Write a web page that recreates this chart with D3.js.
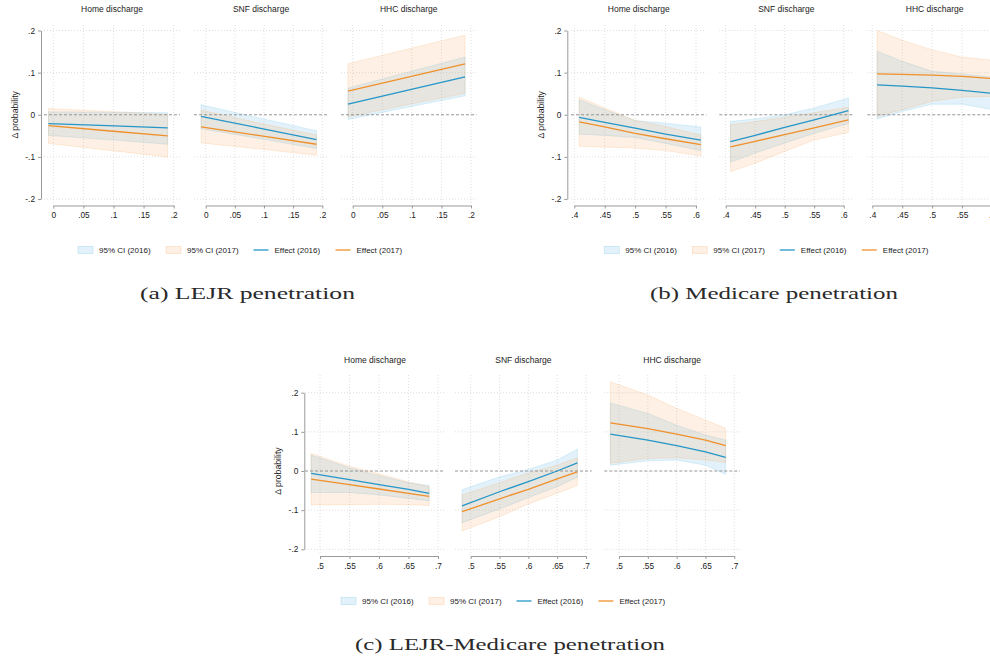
<!DOCTYPE html>
<html>
<head>
<meta charset="utf-8">
<script src="https://cdn.jsdelivr.net/npm/d3@7"></script>
<style>
  body { margin: 0; background: #fff; }
  svg { display: block; }
  text { font-family: Arial, "Liberation Sans", sans-serif; fill: #222; }
  text.caption { font-family: "Liberation Serif", "Times New Roman", serif; fill: #2a2a2a; }
</style>
</head>
<body>
<svg id="chart" width="990" height="660"></svg>
<script>
// Panel titles, legend entries and axis ticks
const outcomes = ["Home discharge", "SNF discharge", "HHC discharge"];
const legendLabels = ["95% CI (2016)", "95% CI (2017)", "Effect (2016)", "Effect (2017)"];
const yTicks = [-0.2, -0.1, 0, 0.1, 0.2];
const yTickLabels = ["-.2", "-.1", "0", ".1", ".2"];
const yLabel = "Δ probability";

// (a) LEJR penetration
const lejrTicks = [0, 0.05, 0.1, 0.15, 0.2];
const lejrTickLabels = ["0", ".05", ".1", ".15", ".2"];
const lejrX = [-0.008, 0.09, 0.19];
// each array: [home, SNF, HHC]
const lejrEffect2016 = [[-0.021, -0.026, -0.031], [-0.004, -0.031, -0.059], [0.025, 0.057, 0.090]];
const lejrEffect2017 = [[-0.026, -0.038, -0.050], [-0.029, -0.049, -0.070], [0.056, 0.088, 0.121]];
const lejrLow2016 = [[-0.049, -0.059, -0.070], [-0.033, -0.056, -0.080], [-0.011, 0.017, 0.045]];
const lejrHigh2016 = [[0.007, 0.006, 0.005], [0.024, -0.007, -0.038], [0.063, 0.100, 0.137]];
const lejrLow2017 = [[-0.068, -0.084, -0.100], [-0.067, -0.081, -0.096], [-0.005, 0.023, 0.051]];
const lejrHigh2017 = [[0.015, 0.008, 0.001], [0.011, -0.019, -0.048], [0.121, 0.155, 0.189]];

// (b) Medicare penetration
const mcTicks = [0.4, 0.45, 0.5, 0.55, 0.6];
const mcTickLabels = [".4", ".45", ".5", ".55", ".6"];
const mcX = [0.408, 0.45, 0.5, 0.55, 0.608];
const mcEffect2016 = [[-0.006, -0.018, -0.032, -0.046, -0.060], [-0.064, -0.049, -0.030, -0.012, 0.010], [0.071, 0.068, 0.064, 0.058, 0.050]];
const mcEffect2017 = [[-0.017, -0.029, -0.044, -0.057, -0.071], [-0.076, -0.063, -0.047, -0.031, -0.012], [0.097, 0.096, 0.094, 0.091, 0.085]];
const mcLow2016 = [[-0.046, -0.049, -0.054, -0.068, -0.085], [-0.113, -0.091, -0.067, -0.044, -0.021], [-0.010, 0.008, 0.025, 0.025, 0.010]];
const mcHigh2016 = [[0.036, 0.012, -0.014, -0.020, -0.029], [-0.016, -0.010, 0.000, 0.016, 0.040], [0.151, 0.127, 0.103, 0.097, 0.088]];
const mcLow2017 = [[-0.075, -0.077, -0.079, -0.085, -0.098], [-0.135, -0.115, -0.087, -0.060, -0.042], [-0.004, 0.012, 0.032, 0.042, 0.044]];
const mcHigh2017 = [[0.042, 0.016, -0.013, -0.028, -0.048], [-0.024, -0.016, -0.006, 0.005, 0.018], [0.200, 0.177, 0.154, 0.137, 0.128]];

// (c) LEJR-Medicare penetration
const lmTicks = [0.5, 0.55, 0.6, 0.65, 0.7];
const lmTickLabels = [".5", ".55", ".6", ".65", ".7"];
const lmX = [0.485, 0.55, 0.6, 0.65, 0.685];
const lmEffect2016 = [[-0.006, -0.022, -0.035, -0.047, -0.057], [-0.089, -0.053, -0.027, 0.000, 0.021], [0.094, 0.079, 0.065, 0.049, 0.035]];
const lmEffect2017 = [[-0.021, -0.035, -0.046, -0.057, -0.065], [-0.104, -0.071, -0.047, -0.020, -0.002], [0.123, 0.108, 0.094, 0.079, 0.065]];
const lmLow2016 = [[-0.055, -0.055, -0.061, -0.070, -0.076], [-0.132, -0.097, -0.068, -0.040, -0.016], [0.015, 0.026, 0.028, 0.015, -0.008]];
const lmHigh2016 = [[0.041, 0.008, -0.012, -0.030, -0.037], [-0.048, -0.015, 0.004, 0.028, 0.056], [0.174, 0.147, 0.117, 0.092, 0.079]];
const lmLow2017 = [[-0.087, -0.086, -0.085, -0.086, -0.088], [-0.153, -0.117, -0.084, -0.057, -0.037], [0.020, 0.032, 0.034, 0.028, 0.022]];
const lmHigh2017 = [[0.045, 0.012, -0.007, -0.028, -0.040], [-0.061, -0.030, -0.005, 0.015, 0.034], [0.228, 0.194, 0.160, 0.130, 0.109]];

const captions = ["(a) LEJR penetration", "(b) Medicare penetration", "(c) LEJR-Medicare penetration"];

// Colours
const blue = "#2596c8", orange = "#f0902a";
const blueBand = "#5ab4e0", orangeBand = "#f7a860";
const bandOpacity = 0.17;

// Layout of the three small-multiple figures
const figures = [
  {
    caption: captions[0], ticks: lejrTicks, tickLabels: lejrTickLabels, x: lejrX,
    e16: lejrEffect2016, e17: lejrEffect2017, lo16: lejrLow2016, hi16: lejrHigh2016, lo17: lejrLow2017, hi17: lejrHigh2017,
    yRange: [199, 30.5], axisY: 205.5, gridTop: 25, gridBottom: 203, titleY: 12, yAxisX: 41, yLabelX: 18,
    panels: [{ grid: [44, 180], tick: [53.3, 173.7] }, { grid: [194, 328], tick: [205.7, 322.3] }, { grid: [341, 476.5], tick: [352.7, 471] }],
    legendX: 78, legendY: 250, capX: 247.5, capY: 299, capW: 215
  },
  {
    caption: captions[1], ticks: mcTicks, tickLabels: mcTickLabels, x: mcX,
    e16: mcEffect2016, e17: mcEffect2017, lo16: mcLow2016, hi16: mcHigh2016, lo17: mcLow2017, hi17: mcHigh2017,
    yRange: [199, 30.5], axisY: 205.5, gridTop: 25, gridBottom: 203, titleY: 12, yAxisX: 567.3, yLabelX: 544,
    panels: [{ grid: [571, 706.5], tick: [574.3, 696] }, { grid: [719.3, 853.3], tick: [725.7, 843.7] }, { grid: [867.3, 1002], tick: [872.3, 992] }],
    legendX: 604.3, legendY: 250, capX: 774, capY: 299, capW: 248
  },
  {
    caption: captions[2], ticks: lmTicks, tickLabels: lmTickLabels, x: lmX,
    e16: lmEffect2016, e17: lmEffect2017, lo16: lmLow2016, hi16: lmHigh2016, lo17: lmLow2017, hi17: lmHigh2017,
    yRange: [549.3, 392.7], axisY: 556, gridTop: 375, gridBottom: 553, titleY: 363, yAxisX: 304.3, yLabelX: 281,
    panels: [{ grid: [305, 445], tick: [320, 438] }, { grid: [455, 591.7], tick: [470.7, 586] }, { grid: [604.3, 740], tick: [619, 734.3] }],
    legendX: 341, legendY: 601, capX: 510, capY: 650, capW: 310
  }
];

const svg = d3.select("#chart");

figures.forEach(fig => {
  const g = svg.append("g");
  const y = d3.scaleLinear().domain([yTicks[0], yTicks[yTicks.length - 1]]).range(fig.yRange);

  fig.panels.forEach((p, i) => {
    const x = d3.scaleLinear().domain([fig.ticks[0], fig.ticks[fig.ticks.length - 1]]).range(p.tick);
    const pg = g.append("g");

    // dotted grid
    pg.selectAll("line.hgrid").data(yTicks.filter(v => v !== 0)).join("line")
      .attr("x1", p.grid[0]).attr("x2", p.grid[1])
      .attr("y1", d => y(d)).attr("y2", d => y(d))
      .attr("stroke", "#d6d6d6").attr("stroke-width", 0.8).attr("stroke-dasharray", "1,2");
    pg.selectAll("line.vgrid").data(fig.ticks).join("line")
      .attr("x1", d => x(d)).attr("x2", d => x(d))
      .attr("y1", fig.gridTop).attr("y2", fig.gridBottom)
      .attr("stroke", "#d6d6d6").attr("stroke-width", 0.8).attr("stroke-dasharray", "1,2");

    // confidence bands
    const band = (lo, hi) => d3.area().x((d, k) => x(fig.x[k])).y0((d, k) => y(lo[k])).y1((d, k) => y(hi[k]));
    [[fig.lo16[i], fig.hi16[i], blueBand], [fig.lo17[i], fig.hi17[i], orangeBand]].forEach(([lo, hi, c]) => {
      pg.append("path").datum(fig.x).attr("d", band(lo, hi))
        .attr("fill", c).attr("fill-opacity", bandOpacity)
        .attr("stroke", c).attr("stroke-opacity", 0.28).attr("stroke-width", 0.7);
    });

    // zero reference line
    pg.append("line").attr("x1", p.grid[0]).attr("x2", p.grid[1])
      .attr("y1", y(0)).attr("y2", y(0))
      .attr("stroke", "#8a8a8a").attr("stroke-width", 0.9).attr("stroke-dasharray", "3,2");

    // effect lines
    const line = vals => d3.line().x((d, k) => x(fig.x[k])).y((d, k) => y(vals[k]));
    [[fig.e16[i], blue], [fig.e17[i], orange]].forEach(([vals, c]) => {
      pg.append("path").datum(fig.x).attr("d", line(vals))
        .attr("fill", "none").attr("stroke", c).attr("stroke-width", 1.3);
    });

    // x axis
    const xa = pg.append("g").attr("transform", `translate(0,${fig.axisY})`)
      .call(d3.axisBottom(x).tickValues(fig.ticks).tickFormat((d, k) => fig.tickLabels[k]).tickSize(3).tickSizeOuter(0).tickPadding(4));
    xa.select(".domain").attr("stroke", "#9a9a9a");
    xa.selectAll(".tick line").attr("stroke", "#9a9a9a");
    xa.selectAll(".tick text").attr("font-size", 8.3).attr("fill", "#222");

    // panel title
    pg.append("text").attr("x", (p.grid[0] + p.grid[1]) / 2).attr("y", fig.titleY)
      .attr("text-anchor", "middle").attr("font-size", 8.5).text(outcomes[i]);
  });

  // y axis on the first panel
  const ya = g.append("g").attr("transform", `translate(${fig.yAxisX},0)`)
    .call(d3.axisLeft(y).tickValues(yTicks).tickFormat((d, k) => yTickLabels[k]).tickSize(3).tickSizeOuter(0).tickPadding(3));
  ya.select(".domain").attr("stroke", "#9a9a9a");
  ya.selectAll(".tick line").attr("stroke", "#9a9a9a");
  ya.selectAll(".tick text").attr("font-size", 8.3).attr("fill", "#222");

  g.append("text")
    .attr("transform", `translate(${fig.yLabelX},${(fig.yRange[0] + fig.yRange[1]) / 2}) rotate(-90)`)
    .attr("text-anchor", "middle").attr("font-size", 8.7).text(yLabel);

  // legend
  const offsets = [0, 88, 175.5, 257.5];
  const lg = g.append("g").attr("transform", `translate(${fig.legendX},${fig.legendY})`);
  legendLabels.forEach((lab, k) => {
    const item = lg.append("g").attr("transform", `translate(${offsets[k]},0)`);
    if (k < 2) {
      const c = k === 0 ? blueBand : orangeBand;
      item.append("rect").attr("x", 0).attr("y", -3.5).attr("width", 15).attr("height", 7)
        .attr("fill", c).attr("fill-opacity", bandOpacity)
        .attr("stroke", c).attr("stroke-opacity", 0.35).attr("stroke-width", 0.7);
    } else {
      item.append("line").attr("x1", 0).attr("x2", 15).attr("y1", 0).attr("y2", 0)
        .attr("stroke", k === 2 ? blue : orange).attr("stroke-width", 1.3);
    }
    item.append("text").attr("x", 21).attr("y", 2.8).attr("font-size", 8).text(lab);
  });

  // caption
  g.append("text").attr("class", "caption")
    .attr("x", fig.capX).attr("y", fig.capY).attr("text-anchor", "middle")
    .attr("font-size", 16.5)
    .attr("textLength", fig.capW).attr("lengthAdjust", "spacingAndGlyphs")
    .text(fig.caption);
});
</script>
</body>
</html>
